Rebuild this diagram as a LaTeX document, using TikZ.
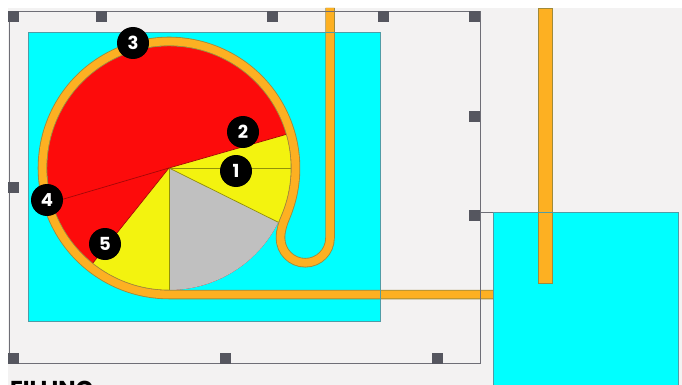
\documentclass[tikz,border=0pt]{standalone}
\usepackage{fontspec}
\setmainfont{Poppins}
\usepackage{xcolor}
\definecolor{tankCyan}{HTML}{00FFFF}
\definecolor{tankEdge}{HTML}{4F9CA6}
\definecolor{paperGrey}{HTML}{F3F2F2}
\definecolor{pipeOrange}{HTML}{FDB022}
\definecolor{pipeEdge}{HTML}{A08A3A}
\definecolor{wedgeRed}{HTML}{FD0B0B}
\definecolor{wedgeYellow}{HTML}{F3F30F}
\definecolor{wedgeGrey}{HTML}{C0C0C0}
\definecolor{frameGrey}{HTML}{6E6E76}
\definecolor{handleGrey}{HTML}{55565F}
\begin{document}
\begin{tikzpicture}[
			x=1pt, y=-1pt,
			tank/.style={fill=tankCyan},
			tankline/.style={draw=tankEdge, line width=0.8pt},
			pipeback/.style={draw=pipeEdge, line width=9.5pt},
			pipefill/.style={draw=pipeOrange, line width=7.8pt},
			divider/.style={line width=0.7pt},
			handle/.style={rectangle, fill=handleGrey, minimum size=11pt, inner sep=0pt},
			badge/.style={circle, fill=black, text=white, minimum size=32pt, inner sep=0pt,
				font=\fontsize{18}{18}\selectfont\bfseries}
			]
			\useasboundingbox (0,0) rectangle (682,385);
			\clip (0,0) rectangle (682,385);
			\fill[paperGrey] (8,8) rectangle (682,385);
			% tanks
			\fill[tank] (28,32) rectangle (380,321);
			\fill[tank] (493,212) rectangle (678,385);
			% wedges
			\coordinate (hub) at (169,168);
			\fill[wedgeRed] (hub) circle[radius=122];
			\fill[wedgeYellow] (hub) -- +(-16:122 and 122) arc[start angle=-16, end angle=26.4, radius=122] -- cycle;
			\fill[wedgeGrey] (hub) -- +(26.4:122 and 122) arc[start angle=26.4, end angle=90, radius=122] -- cycle;
			\fill[wedgeYellow] (hub) -- +(90:122 and 122) arc[start angle=90, end angle=128.7, radius=122] -- cycle;
			\draw[divider, draw=wedgeYellow!60!black] (hub) -- +(122,0);
			\draw[divider, draw=wedgeYellow!60!black] (hub) -- +(26.4:122 and 122);
			\draw[divider, draw=wedgeYellow!60!black] (hub) -- +(0,122);
			\draw[divider, draw=wedgeRed!65!black] (hub) -- +(163.6:122 and 122);
			\draw[divider, draw=wedgeRed!65!black] (hub) -- +(-16:122 and 122);
			\draw[divider, draw=wedgeRed!65!black] (hub) -- +(128.7:122 and 122);
			% pipes
			\coordinate (bendtop) at (330,8);
			\coordinate (tankin) at (493,294.5);
			\foreach \pipestyle in {pipeback,pipefill}{
				\draw[\pipestyle] (bendtop) -- (330,238) arc[start angle=0, end angle=180, radius=24.75]
					.. controls (280.5,230) and (283,223) .. (286,216)
					arc[start angle=22.3, end angle=-270, radius=126.5] -- (tankin);
			}
			\draw[draw=pipeEdge, fill=pipeOrange, line width=0.8pt] (538,8) rectangle (552,283);
			% outlines
			\draw[tankline] (28,32) rectangle (380,321);
			\draw[tankline] (493,212) rectangle (678,385);
			\draw[draw=frameGrey, line width=1pt] (9,12) rectangle (480,363);
			\draw[draw=frameGrey, line width=0.8pt] (480,212) -- (493,212);
			% handles
			\foreach \hx/\hy [count=\hn] in {13.5/16.5, 101.5/16.5, 272.5/16.5, 383.5/16.5, 474.5/16.5,
				474.5/116.5, 474.5/215.5, 13.5/187.5, 13.5/358.5, 225.5/358.5, 437.5/358.5}
				\node[handle] (handle\hn) at (\hx,\hy) {};
			% badges
			\node[badge] (one) at (236,171) {1};
			\node[badge] (two) at (243,132) {2};
			\node[badge] (three) at (133,43) {3};
			\node[badge] (four) at (47,200) {4};
			\node[badge] (five) at (105,244) {5};
			% caption
			\node[anchor=base west, inner sep=0pt, font=\fontsize{23}{23}\selectfont\bfseries] (caption) at (10,397) {FILLING};
		\end{tikzpicture}
\end{document}
